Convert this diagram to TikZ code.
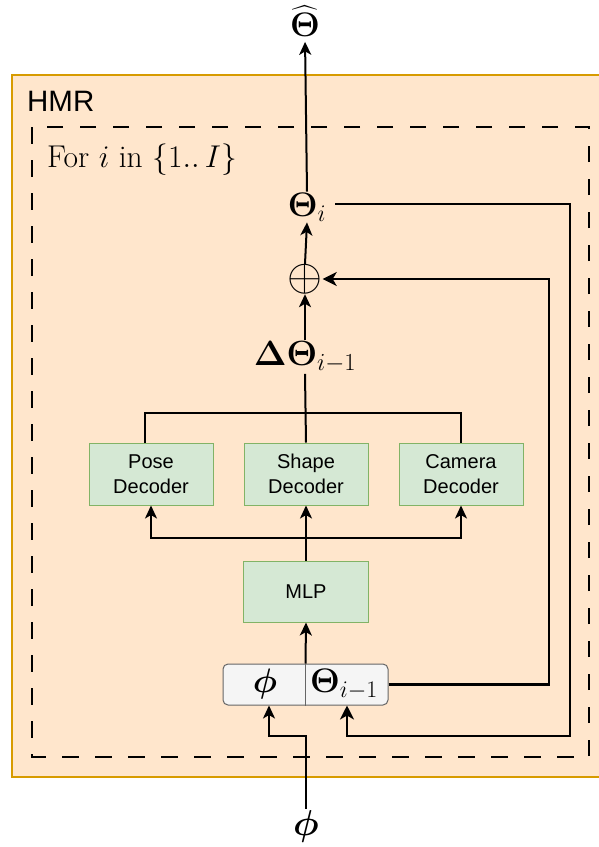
\RequirePackage{fix-cm}
\documentclass[tikz,border=0pt]{standalone}
\usepackage{amsmath}
\usepackage[no-math]{fontspec}
\setsansfont{Liberation Sans}
\usetikzlibrary{arrows.meta,calc}
\definecolor{hmrfill}{HTML}{FFE6CC}
\definecolor{hmrline}{HTML}{D79B00}
\definecolor{decfill}{HTML}{D5E8D4}
\definecolor{decline}{HTML}{82B366}
\definecolor{infill}{HTML}{F5F5F5}
\definecolor{inline}{HTML}{666666}
\newcommand\myfs[1]{\fontsize{#1}{#1}\selectfont}
\tikzset{
  decbox/.style={draw=decline, fill=decfill, line width=1pt, minimum width=124pt, minimum height=62pt,
    align=center, inner sep=0pt, font=\sffamily\fontsize{20}{24.5}\selectfont},
  lbl/.style={inner sep=1pt},
  conn/.style={line width=2pt, draw=black},
  fb/.style={line width=2.8pt, draw=black},
  arr/.style={-{Stealth[length=13pt,width=12pt,inset=3.5pt]}},
  farr/.style={-{Stealth[length=14pt,width=14pt,inset=4pt]}},
  loopbox/.style={draw=black, line width=1.8pt, dash pattern=on 16.5pt off 16.5pt},
}
\begin{document}
\begin{tikzpicture}[x=1pt,y=-1pt]
\useasboundingbox (0,0) rectangle (599,847);
% outer HMR container
\draw[draw=hmrline, fill=hmrfill, line width=1.2pt] (12,75) rectangle (615,777);
\node[anchor=west, inner sep=0pt, font=\sffamily\myfs{29.5}] (hmr) at (27,101) {HMR};
% loop box
\draw[loopbox] (32,127) rectangle (589,757);
\node[anchor=west, inner sep=0pt, font=\myfs{31.5}] (fori) at (47,160) {For $i$ in $\{1..\,I\}$};

% labels
\node[lbl, font=\myfs{34}] (thetahat) at (305,21) {$\widehat{\mathbf{\Theta}}$};
\node[lbl, font=\myfs{34}] (thetai) at (307,207) {$\mathbf{\Theta}_i$};
\node[inner sep=0pt, font=\myfs{45}] (oplus) at (305,279) {$\oplus$};
\node[lbl, font=\myfs{35}] (delta) at (305,357) {$\mathbf{\Delta\Theta}_{i-1}$};

% decoders
\node[decbox] (pose) at (151,474) {Pose\\Decoder};
\node[decbox] (shape) at (306,474) {Shape\\Decoder};
\node[decbox] (camera) at (461,474) {Camera\\Decoder};
\node[decbox, minimum width=125pt, minimum height=61pt] (mlp) at (306,591.5) {MLP};

% input box
\node[draw=inline, fill=infill, line width=1pt, rounded corners=5pt, minimum width=165pt, minimum height=41pt, inner sep=0pt] (inbox) at (305.5,684.5) {};
\draw[draw=inline, line width=1pt] (inbox.north) -- (inbox.south);
\node[lbl, font=\myfs{34}] (phiin) at (265,684) {$\boldsymbol{\phi}$};
\node[lbl, font=\myfs{34}] (thprev) at (344,684) {$\mathbf{\Theta}_{i-1}$};

\node[lbl, font=\myfs{36}] (phibot) at (306,826) {$\boldsymbol{\phi}$};

% coordinates
\coordinate (tl) at (145,413);
\coordinate (tr) at (461,413);
\coordinate (bj) at (306,538);
\coordinate (pj) at (306,736);
\coordinate (phiX) at (269,705);
\coordinate (thX) at (347,736);
\coordinate (r1) at (570,204);
\coordinate (r2) at (549,279);
\coordinate (t1) at (335,204);

% main flow
\draw[conn, arr, shorten >=4pt] (thetai.north) -- (thetahat.south);
\draw[conn, arr] (oplus.north) -- (thetai.south);
\draw[conn, arr] (delta.north) -- (oplus.south);
\draw[conn] (delta.south) -- (shape.north);
\draw[conn] (tl |- pose.north) -- (tl) -- (tr) -- (camera.north);

\draw[conn] (mlp.north) -- (bj);
\draw[conn, arr] (bj) -| (pose.south);
\draw[conn, arr] (bj) -| (camera.south);
\draw[conn, arr] (bj) -- (shape.south);
\draw[conn, arr] (inbox.north) -- (mlp.south);

\draw[conn, arr] (phibot.north) |- (phiX |- pj) -- (phiX |- inbox.south);

% feedback loops
\draw[fb, farr] (t1) -- (r1) |- (thX) -- (thX |- inbox.south);
\draw[fb, farr] (inbox.east) -| (r2) -- (oplus.east);
\end{tikzpicture}
\end{document}
